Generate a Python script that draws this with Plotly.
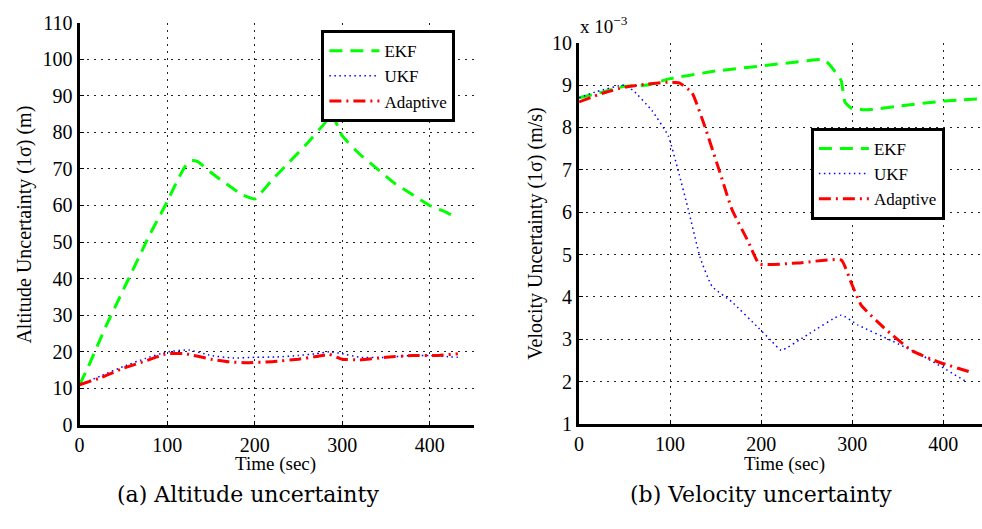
import plotly.graph_objects as go

# ---------------- Altitude uncertainty (m) ----------------
alt_ekf_t = [0, 10, 20, 30, 40, 50, 60, 70, 80, 90, 100, 110, 120, 128, 135, 150, 170, 185, 200,
             220, 240, 260, 280, 288, 295, 300, 320, 340, 360, 380, 400, 420, 432]
alt_ekf_v = [11, 16, 21.5, 27, 32, 37, 42, 47, 52, 56.5, 61, 66, 70.5, 72.3, 72, 69, 65.5, 63, 61.8,
             67, 72, 77, 82.5, 85, 81.5, 79, 74, 70, 66, 63, 60, 58, 56.5]
alt_ukf_t = [0, 25, 50, 75, 100, 125, 150, 175, 200, 225, 250, 270, 285, 300, 320, 350, 380, 400, 432]
alt_ukf_v = [11, 13.5, 16, 18.2, 20, 20.5, 19, 18.3, 18.5, 18.6, 19, 19.5, 20, 19.5, 18.5, 18.5, 19, 19, 18.5]
alt_ada_t = [0, 25, 50, 75, 100, 120, 150, 170, 190, 220, 250, 270, 285, 300, 320, 350, 380, 410, 432]
alt_ada_v = [11, 13, 15.5, 17.5, 19.5, 19.5, 18, 17.3, 17, 17.3, 18, 18.7, 19.3, 18, 17.8, 18.5, 19, 19, 19.5]

# ---------------- Velocity uncertainty (x 10^-3 m/s) ----------------
vel_ekf_t = [0, 20, 50, 75, 100, 150, 200, 250, 265, 272, 280, 288, 292, 300, 320, 350, 400, 445]
vel_ekf_v = [8.7, 8.8, 8.97, 9.0, 9.15, 9.33, 9.45, 9.57, 9.6, 9.55, 9.35, 9.1, 8.6, 8.44, 8.42, 8.5, 8.62, 8.68]
vel_ukf_t = [0, 20, 50, 60, 80, 98, 109, 120, 133, 146, 168, 197, 211, 222, 251, 288, 306, 343, 379, 427]
vel_ukf_v = [8.7, 8.85, 9.0, 8.86, 8.4, 7.8, 6.97, 6.06, 4.93, 4.25, 3.88, 3.27, 2.97, 2.74, 3.11, 3.57,
             3.34, 2.97, 2.59, 1.98]
vel_ada_t = [0, 25, 50, 75, 100, 110, 124, 138, 153, 168, 186, 198, 240, 288, 299, 310, 335, 365, 394, 428]
vel_ada_v = [8.6, 8.8, 8.95, 9.02, 9.07, 9.05, 8.82, 8.03, 7.05, 6.06, 5.3, 4.78, 4.8, 4.87, 4.33, 3.8,
             3.27, 2.74, 2.47, 2.24]

series_names = ["EKF", "UKF", "Adaptive"]
x_ticks = [0, 100, 200, 300, 400]
alt_ticks = list(range(0, 111, 10))
vel_ticks = list(range(1, 11))

FONT = "Liberation Serif"
GREEN, BLUE, RED = "#00ff00", "#0000ff", "#ff0000"
styles = [
    dict(color=GREEN, width=3, dash="13px,8px"),
    dict(color=BLUE, width=1.5, dash="1.5px,3.5px"),
    dict(color=RED, width=3, dash="12px,5px,2px,5px"),
]

fig = go.Figure()
alt_data = [(alt_ekf_t, alt_ekf_v), (alt_ukf_t, alt_ukf_v), (alt_ada_t, alt_ada_v)]
vel_data = [(vel_ekf_t, vel_ekf_v), (vel_ukf_t, vel_ukf_v), (vel_ada_t, vel_ada_v)]
for name, (t, v), st in zip(series_names, alt_data, styles):
    fig.add_trace(go.Scatter(x=t, y=v, mode="lines", name=name, line=dict(**st, shape="spline", smoothing=0.4),
                             xaxis="x", yaxis="y", legend="legend"))
for name, (t, v), st in zip(series_names, vel_data, styles):
    fig.add_trace(go.Scatter(x=t, y=v, mode="lines", name=name, line=dict(**st, shape="spline", smoothing=0.4),
                             xaxis="x2", yaxis="y2", legend="legend2"))

W, H = 982, 529
axis_common = dict(
    showline=True, linewidth=3, linecolor="black", mirror=False,
    ticks="inside", ticklen=4, tickwidth=1, tickcolor="black",
    showgrid=True, gridcolor="#222", gridwidth=1, griddash="2px,5px",
    zeroline=False, tickfont=dict(family=FONT, size=20, color="black"),
)

fig.update_layout(
    width=W, height=H, autosize=False,
    margin=dict(l=0, r=0, t=0, b=0),
    paper_bgcolor="white", plot_bgcolor="white",
    font=dict(family=FONT, size=19, color="black"),
    xaxis=dict(domain=[75 / W, 471 / W], range=[0, 450], tickvals=x_ticks, anchor="y", **axis_common),
    yaxis=dict(domain=[(H - 432) / H, (H - 12) / H], range=[0, 110], tickvals=alt_ticks, anchor="x", **axis_common),
    xaxis2=dict(domain=[577 / W, 1.0], range=[0, 442.6], tickvals=x_ticks, anchor="y2", **axis_common),
    yaxis2=dict(domain=[(H - 431) / H, (H - 33) / H], range=[1, 10], tickvals=vel_ticks, anchor="x2", **axis_common),
    legend=dict(x=318 / W, y=(H - 20) / H, xanchor="left", yanchor="top", bgcolor="white",
                bordercolor="black", borderwidth=3, font=dict(family=FONT, size=17), itemwidth=50,
                tracegroupgap=0),
    legend2=dict(x=810 / W, y=(H - 122) / H, xanchor="left", yanchor="top", bgcolor="white",
                 bordercolor="black", borderwidth=3, font=dict(family=FONT, size=17), itemwidth=50,
                 tracegroupgap=0),
    showlegend=True,
)

annots = [
    dict(text="Altitude Uncertainty (1σ) (m)", x=20 / W, y=(H - 223) / H, textangle=-90, size=20, xa="center", ya="middle"),
    dict(text="Velocity Uncertainty (1σ) (m/s)", x=533 / W, y=(H - 232) / H, textangle=-90, size=20, xa="center", ya="middle"),
    dict(text="Time (sec)", x=272 / W, y=(H - 473) / H, textangle=0, size=19, xa="center", ya="middle"),
    dict(text="Time (sec)", x=783 / W, y=(H - 473) / H, textangle=0, size=19, xa="center", ya="middle"),
    dict(text="x 10<sup>−3</sup>", x=576 / W, y=(H - 29) / H, textangle=0, size=19, xa="left", ya="bottom"),
]
for a in annots:
    fig.add_annotation(text=a["text"], x=a["x"], y=a["y"], xref="paper", yref="paper",
                       textangle=a["textangle"], showarrow=False, xanchor=a["xa"], yanchor=a["ya"],
                       font=dict(family=FONT, size=a["size"], color="black"))

captions = [("(a) Altitude uncertainty", 244), ("(b) Velocity uncertainty", 760)]
for txt, cx in captions:
    fig.add_annotation(text=txt, x=cx / W, y=(H - 505) / H, xref="paper", yref="paper", showarrow=False,
                       xanchor="center", yanchor="middle",
                       font=dict(family="DejaVu Serif", size=22, color="black"))

fig.write_html("out.html", config={"displayModeBar": False},
               post_script="document.body.style.margin='0';document.body.style.overflow='hidden';")
